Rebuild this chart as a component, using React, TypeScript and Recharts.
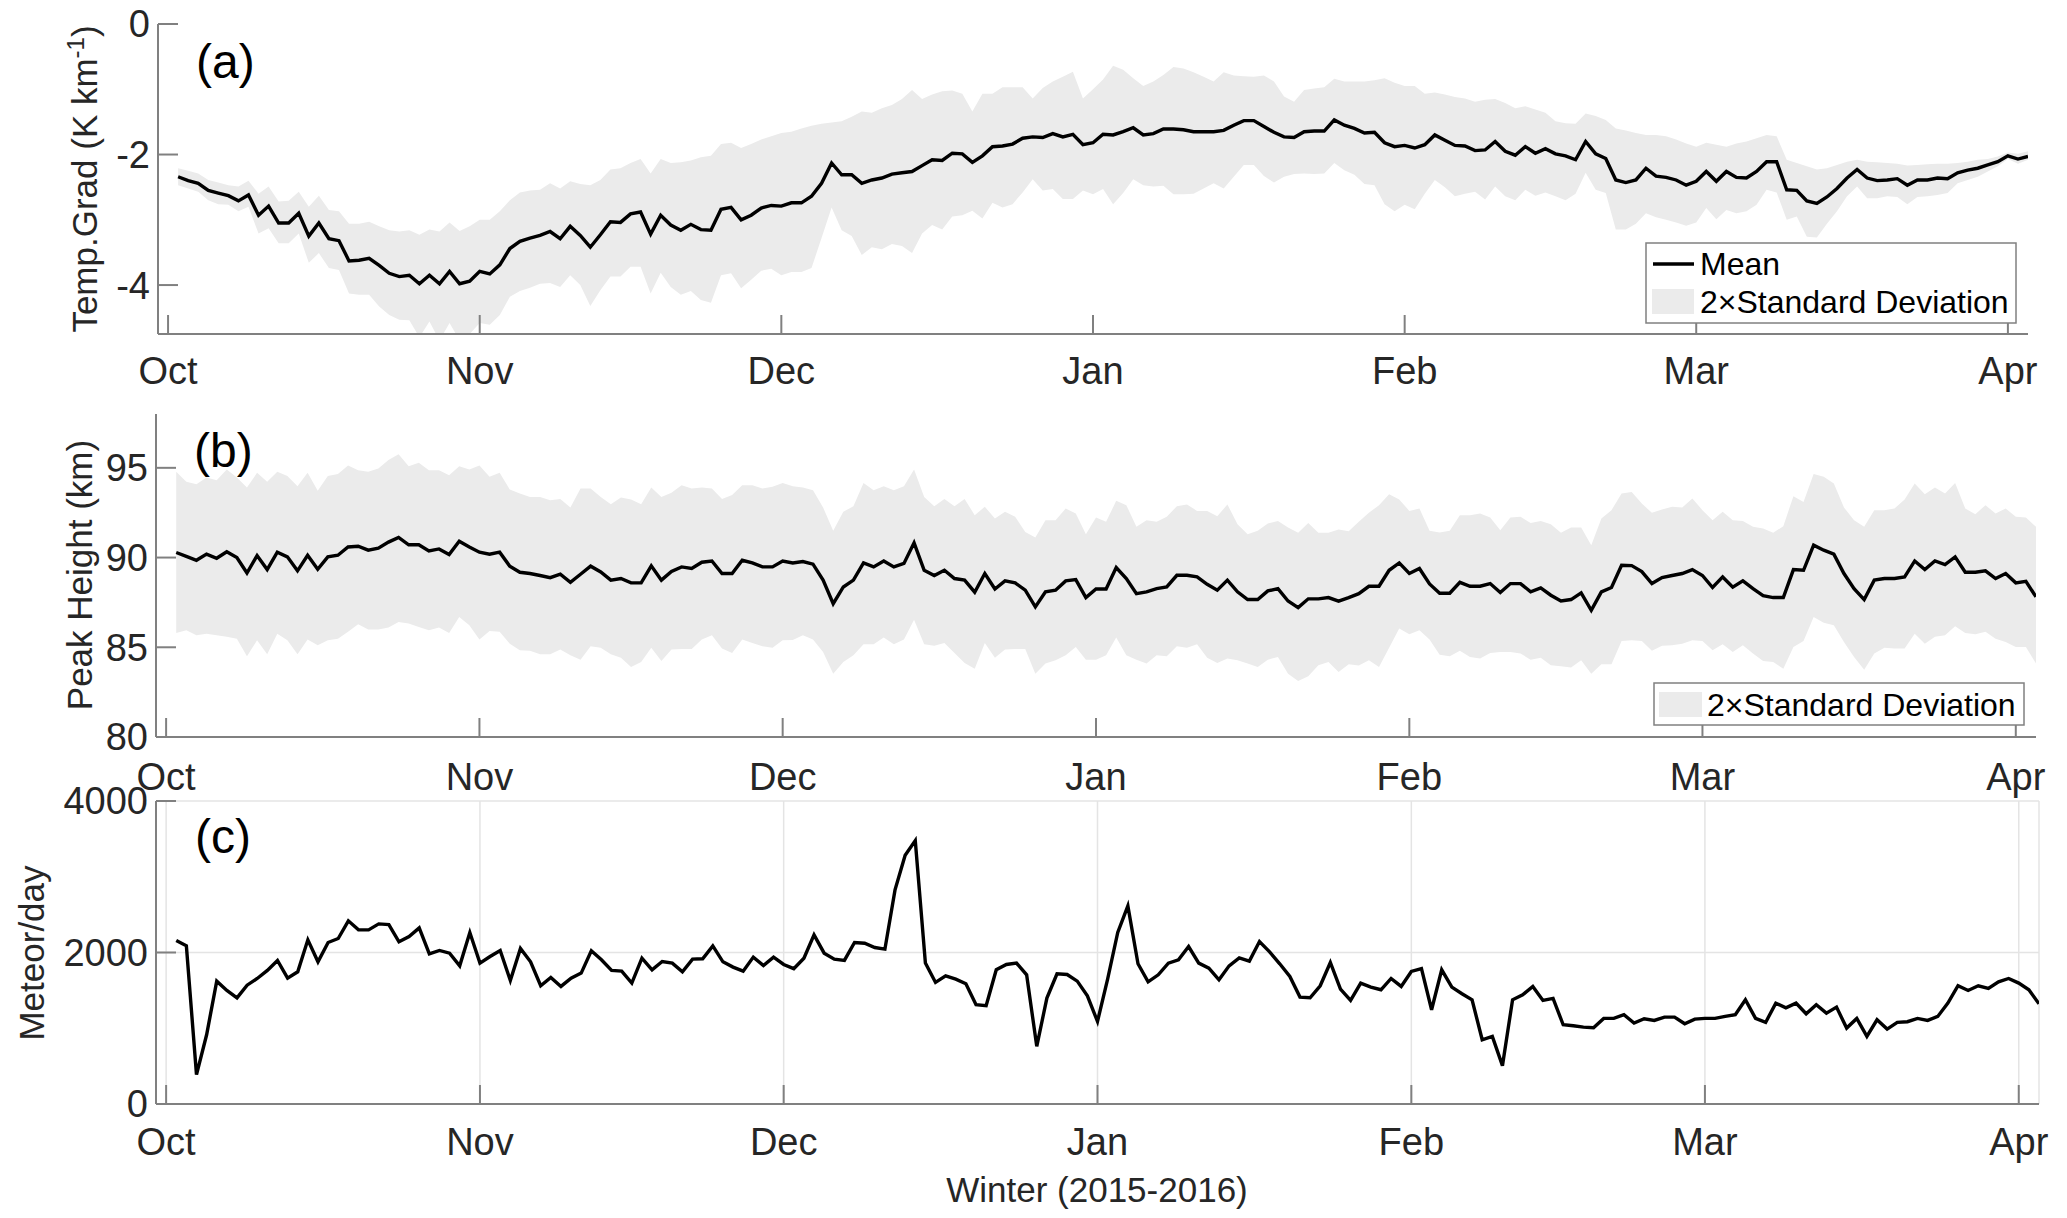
import React from "react";
import { Area, CartesianGrid, ComposedChart, Line, XAxis, YAxis } from "recharts";

// days are counted from 1 Oct 2015; the first sample is 2 Oct
const FIRST_DAY = 1;
const MONTH_TICKS = [0, 31, 61, 92, 123, 152, 183];
const MONTH_LABELS = ["Oct", "Nov", "Dec", "Jan", "Feb", "Mar", "Apr"];

// (a) temperature gradient, K/km
const gradMean = [
  -2.34, -2.4, -2.44, -2.55, -2.59, -2.63, -2.71, -2.62, -2.93, -2.79,
  -3.05, -3.05, -2.9, -3.25, -3.05, -3.29, -3.32, -3.63, -3.62, -3.59,
  -3.7, -3.82, -3.87, -3.85, -3.98, -3.85, -3.98, -3.79, -3.98, -3.94,
  -3.79, -3.83, -3.69, -3.44, -3.33, -3.28, -3.24, -3.18, -3.29, -3.1,
  -3.24, -3.42, -3.23, -3.03, -3.04, -2.91, -2.88, -3.22, -2.93, -3.08,
  -3.16, -3.07, -3.15, -3.16, -2.84, -2.81, -3.0, -2.93, -2.82, -2.78,
  -2.79, -2.74, -2.74, -2.64, -2.44, -2.13, -2.31, -2.31, -2.44, -2.39,
  -2.36, -2.3, -2.28, -2.26, -2.17, -2.08, -2.09, -1.98, -1.99, -2.12,
  -2.02, -1.88, -1.87, -1.84, -1.75, -1.73, -1.74, -1.68, -1.73, -1.69,
  -1.85, -1.82, -1.69, -1.7, -1.65, -1.59, -1.7, -1.68, -1.61, -1.61,
  -1.62, -1.65, -1.65, -1.65, -1.63, -1.55, -1.48, -1.48, -1.57, -1.66,
  -1.73, -1.74, -1.65, -1.64, -1.64, -1.47, -1.55, -1.6, -1.67, -1.66,
  -1.82, -1.88, -1.86, -1.9, -1.85, -1.7, -1.78, -1.86, -1.87, -1.94,
  -1.93, -1.8, -1.95, -2.01, -1.88, -1.98, -1.91, -1.99, -2.02, -2.08,
  -1.8, -1.99, -2.06, -2.39, -2.43, -2.39, -2.21, -2.33, -2.35, -2.39,
  -2.47, -2.41, -2.26, -2.41, -2.26, -2.35, -2.36, -2.26, -2.11, -2.11,
  -2.54, -2.55, -2.71, -2.75, -2.65, -2.52, -2.36, -2.23, -2.36, -2.4,
  -2.39, -2.37, -2.47, -2.39, -2.39, -2.36, -2.37, -2.28, -2.24, -2.21,
  -2.16, -2.11, -2.02, -2.07, -2.03,
];
const gradHi = [
  -2.21, -2.25, -2.29, -2.39, -2.43, -2.47, -2.49, -2.4, -2.6, -2.49,
  -2.72, -2.71, -2.57, -2.8, -2.63, -2.85, -2.87, -3.06, -3.06, -3.03,
  -3.1, -3.16, -3.18, -3.16, -3.23, -3.15, -3.18, -3.04, -3.17, -3.1,
  -3.0, -3.0, -2.87, -2.7, -2.58, -2.55, -2.54, -2.44, -2.52, -2.41,
  -2.45, -2.47, -2.39, -2.23, -2.21, -2.13, -2.07, -2.29, -2.07, -2.13,
  -2.12, -2.09, -2.04, -2.02, -1.84, -1.82, -1.9, -1.84, -1.77, -1.72,
  -1.67, -1.65, -1.6, -1.56, -1.53, -1.51, -1.49, -1.42, -1.34, -1.36,
  -1.29, -1.24, -1.15, -1.01, -1.15, -1.08, -1.03, -1.02, -1.07, -1.34,
  -1.07, -1.07, -0.97, -0.97, -0.97, -1.14, -0.98, -0.88, -0.81, -0.73,
  -1.14, -1.0, -0.85, -0.64, -0.7, -0.83, -0.95, -0.88, -0.78, -0.66,
  -0.68, -0.74, -0.81, -0.88, -0.74, -0.79, -0.8, -0.81, -0.79, -0.88,
  -1.11, -1.19, -1.01, -0.99, -0.97, -0.84, -0.88, -0.88, -0.88, -0.86,
  -0.83, -0.9, -0.95, -0.95, -1.07, -1.05, -1.08, -1.12, -1.14, -1.19,
  -1.16, -1.15, -1.21, -1.29, -1.26, -1.31, -1.36, -1.49, -1.52, -1.53,
  -1.37, -1.41, -1.47, -1.6, -1.63, -1.67, -1.7, -1.7, -1.72, -1.77,
  -1.83, -1.88, -1.82, -1.85, -1.88, -1.83, -1.8, -1.75, -1.7, -1.72,
  -2.08, -2.13, -2.18, -2.23, -2.21, -2.16, -2.11, -2.08, -2.11, -2.12,
  -2.13, -2.14, -2.17, -2.16, -2.15, -2.14, -2.14, -2.13, -2.11, -2.08,
  -2.07, -2.03, -1.97, -1.99, -1.95,
];
const gradLo = [
  -2.47, -2.52, -2.57, -2.7, -2.76, -2.77, -2.87, -2.8, -3.21, -3.13,
  -3.36, -3.36, -3.21, -3.66, -3.51, -3.74, -3.77, -4.13, -4.15, -4.15,
  -4.33, -4.46, -4.53, -4.54, -4.8, -4.56, -4.85, -4.58, -4.85, -4.75,
  -4.58, -4.61, -4.46, -4.18, -4.09, -4.04, -3.98, -3.97, -4.03, -3.85,
  -4.0, -4.32, -4.08, -3.87, -3.87, -3.72, -3.72, -4.13, -3.81, -4.03,
  -4.15, -4.09, -4.23, -4.27, -3.85, -3.82, -4.05, -3.92, -3.78, -3.75,
  -3.85, -3.8, -3.8, -3.74, -3.28, -2.81, -3.16, -3.25, -3.54, -3.42,
  -3.45, -3.37, -3.4, -3.51, -3.21, -3.08, -3.15, -2.95, -2.93, -2.86,
  -2.98, -2.74, -2.81, -2.76, -2.58, -2.38, -2.55, -2.53, -2.68, -2.68,
  -2.55, -2.61, -2.53, -2.76, -2.59, -2.38, -2.47, -2.49, -2.48, -2.61,
  -2.61, -2.6, -2.52, -2.44, -2.52, -2.34, -2.16, -2.16, -2.33, -2.43,
  -2.34, -2.3, -2.29, -2.3, -2.29, -2.13, -2.24, -2.31, -2.45, -2.47,
  -2.76, -2.87, -2.77, -2.84, -2.6, -2.39, -2.5, -2.64, -2.6, -2.57,
  -2.69, -2.49, -2.64, -2.7, -2.54, -2.63, -2.58, -2.64, -2.7, -2.6,
  -2.28, -2.54, -2.59, -3.15, -3.15, -3.06, -2.9, -2.96, -3.0, -3.04,
  -3.09, -3.04, -2.82, -2.99, -2.85, -2.9, -2.87, -2.77, -2.54, -2.58,
  -3.0, -2.95, -3.26, -3.27, -3.06, -2.87, -2.64, -2.49, -2.67, -2.67,
  -2.64, -2.65, -2.76, -2.65, -2.64, -2.62, -2.59, -2.44, -2.39, -2.34,
  -2.26, -2.18, -2.07, -2.14, -2.08,
];

// (b) peak height, km
const peakMean = [
  90.28, 90.07, 89.85, 90.19, 89.96, 90.32, 90.0, 89.14, 90.11, 89.33,
  90.3, 90.04, 89.26, 90.13, 89.35, 90.04, 90.13, 90.59, 90.63, 90.41,
  90.52, 90.86, 91.12, 90.71, 90.71, 90.37, 90.48, 90.17, 90.91, 90.59,
  90.3, 90.19, 90.3, 89.52, 89.18, 89.11, 89.0, 88.88, 89.07, 88.62,
  89.07, 89.52, 89.2, 88.74, 88.83, 88.59, 88.59, 89.54, 88.74, 89.22,
  89.48, 89.39, 89.74, 89.81, 89.11, 89.11, 89.85, 89.7, 89.48, 89.48,
  89.81, 89.7, 89.78, 89.63, 88.74, 87.43, 88.36, 88.74, 89.7, 89.48,
  89.81, 89.48, 89.67, 90.82, 89.29, 89.0, 89.29, 88.83, 88.74, 88.07,
  89.11, 88.25, 88.7, 88.59, 88.18, 87.25, 88.09, 88.18, 88.7, 88.77,
  87.77, 88.25, 88.25, 89.44, 88.83, 87.99, 88.09, 88.27, 88.36, 89.01,
  89.01, 88.92, 88.51, 88.18, 88.74, 88.09, 87.66, 87.66, 88.14, 88.27,
  87.58, 87.21, 87.7, 87.7, 87.77, 87.57, 87.77, 87.99, 88.4, 88.4,
  89.29, 89.7, 89.11, 89.39, 88.53, 88.01, 88.01, 88.62, 88.4, 88.4,
  88.55, 88.05, 88.55, 88.55, 88.09, 88.31, 87.9, 87.58, 87.66, 88.03,
  87.06, 88.09, 88.33, 89.57, 89.55, 89.22, 88.55, 88.88, 89.0, 89.11,
  89.33, 89.0, 88.33, 88.92, 88.35, 88.7, 88.27, 87.88, 87.77, 87.77,
  89.33, 89.29, 90.69, 90.41, 90.19, 89.11, 88.27, 87.66, 88.74, 88.83,
  88.83, 88.92, 89.81, 89.33, 89.81, 89.61, 90.04, 89.18, 89.18, 89.26,
  88.83, 89.11, 88.59, 88.68, 87.81,
];
const peakHi = [
  94.78, 94.22, 94.09, 94.46, 94.31, 94.91, 94.46, 93.9, 94.72, 94.22,
  94.78, 94.54, 93.98, 94.72, 93.72, 94.54, 94.65, 95.13, 94.87, 94.78,
  94.96, 95.43, 95.76, 95.09, 95.28, 94.87, 94.87, 94.59, 95.09, 94.91,
  95.13, 94.5, 94.72, 93.79, 93.57, 93.38, 93.38, 93.2, 93.27, 92.79,
  93.85, 93.85, 93.38, 92.97, 93.35, 93.23, 92.97, 93.9, 93.38, 93.61,
  94.03, 93.85, 93.9, 93.85, 93.27, 93.48, 94.03, 94.03, 93.85, 93.94,
  94.16, 93.98, 93.9, 93.75, 92.79, 91.49, 92.55, 92.86, 94.16, 93.75,
  93.98, 93.75, 93.98, 94.91, 93.38, 92.86, 93.27, 92.86, 93.27, 92.36,
  92.83, 92.17, 92.55, 92.27, 91.43, 91.12, 92.08, 92.08, 92.73, 92.45,
  91.3, 92.23, 91.99, 93.16, 92.92, 91.71, 92.08, 91.99, 92.27, 92.86,
  92.96, 92.6, 92.6, 92.3, 92.96, 91.86, 91.3, 91.49, 91.9, 92.04,
  91.67, 91.38, 91.93, 91.38, 91.38, 91.56, 91.47, 91.99, 92.49, 92.92,
  93.53, 93.23, 92.6, 92.73, 91.49, 91.4, 91.5, 92.36, 92.36, 92.45,
  92.23, 91.52, 92.23, 92.27, 91.93, 92.04, 91.86, 91.38, 91.67, 91.67,
  90.69, 92.17, 92.64, 93.57, 93.66, 93.01, 92.49, 92.68, 92.83, 92.79,
  93.29, 92.64, 92.08, 92.55, 92.08, 92.04, 91.71, 91.62, 91.38, 91.75,
  93.42, 93.1, 94.65, 94.5, 94.13, 92.79, 92.08, 91.71, 92.64, 92.64,
  92.73, 93.23, 94.13, 93.53, 93.9, 93.57, 94.16, 92.73, 92.42, 92.92,
  92.45, 92.73, 92.27, 92.23, 91.71,
];
const peakLo = [
  85.8, 85.95, 85.67, 85.76, 85.67, 85.58, 85.48, 84.5, 85.39, 84.61,
  85.76, 85.39, 84.61, 85.43, 85.11, 85.39, 85.48, 85.86, 86.28, 85.99,
  85.99, 86.1, 86.41, 86.32, 86.13, 85.95, 86.1, 85.8, 86.69, 86.23,
  85.43, 85.91, 85.86, 85.2, 84.83, 84.8, 84.61, 84.61, 84.87, 84.55,
  84.31, 85.06, 84.98, 84.61, 84.42, 83.9, 84.18, 84.98, 84.24, 84.87,
  84.91, 84.91, 85.43, 85.67, 84.93, 84.68, 85.43, 85.24, 85.06, 84.98,
  85.39, 85.41, 85.67, 85.43, 84.74, 83.53, 84.18, 84.55, 85.17, 85.17,
  85.54, 85.17, 85.43, 86.54, 85.17, 85.09, 85.24, 84.68, 84.13, 83.81,
  85.24, 84.42, 84.87, 84.91, 84.91, 83.53, 84.09, 84.28, 84.55, 85.02,
  84.31, 84.31, 84.55, 85.54, 84.55, 84.31, 84.09, 84.55, 84.5, 85.06,
  84.98, 85.17, 84.42, 84.13, 84.37, 84.28, 84.09, 83.9, 84.31, 84.46,
  83.53, 83.12, 83.38, 84.0, 84.18, 83.62, 84.05, 83.98, 84.28, 83.9,
  84.98, 86.04, 85.72, 85.95, 85.44, 84.58, 84.5, 84.8, 84.46, 84.37,
  84.68, 84.74, 84.74, 84.65, 84.31, 84.42, 84.0, 83.94, 83.87, 84.28,
  83.53, 84.05, 84.05, 85.35, 85.39, 85.35, 84.8, 85.09, 85.11, 85.2,
  85.39, 85.35, 84.83, 85.17, 84.74, 85.11, 84.65, 84.24, 84.18, 83.81,
  85.02, 85.35, 86.69, 86.36, 86.23, 85.3, 84.46, 83.75, 84.65, 84.98,
  84.93, 84.93, 85.76, 85.2, 85.58, 85.67, 86.17, 85.8, 85.72, 85.86,
  85.48, 85.3, 85.02, 85.02, 84.09,
];

// (c) meteor counts per day
const meteors = [
  2158, 2088, 387, 914, 1622, 1499, 1402, 1569, 1657, 1763,
  1895, 1662, 1745, 2167, 1877, 2132, 2185, 2418, 2299, 2299,
  2378, 2369, 2141, 2211, 2325, 1983, 2027, 1991, 1824, 2264,
  1860, 1947, 2027, 1631, 2053, 1877, 1561, 1671, 1552, 1662,
  1728, 2022, 1903, 1763, 1754, 1596, 1925, 1772, 1881, 1860,
  1745, 1912, 1917, 2088, 1877, 1807, 1754, 1939, 1829, 1939,
  1842, 1787, 1925, 2233, 1991, 1912, 1895, 2132, 2123, 2066,
  2044, 2827, 3284, 3477, 1860, 1605, 1692, 1649, 1587, 1310,
  1297, 1772, 1842, 1860, 1706, 761, 1398, 1719, 1710, 1622,
  1429, 1090, 1649, 2264, 2616, 1851, 1613, 1706, 1860, 1903,
  2079, 1860, 1794, 1640, 1824, 1930, 1886, 2145, 2009, 1851,
  1684, 1411, 1402, 1561, 1868, 1517, 1367, 1596, 1543, 1508,
  1657, 1552, 1750, 1787, 1244, 1772, 1543, 1455, 1376, 848,
  892, 506, 1376, 1442, 1552, 1367, 1394, 1046, 1033, 1015,
  1007, 1130, 1130, 1178, 1068, 1125, 1103, 1147, 1147, 1059,
  1121, 1130, 1130, 1156, 1178, 1376, 1130, 1077, 1332, 1270,
  1332, 1191, 1310, 1200, 1279, 1002, 1130, 892, 1112, 989,
  1077, 1086, 1130, 1103, 1156, 1332, 1561, 1499, 1561, 1525,
  1613, 1657, 1596, 1508, 1323,
];

const FONT = '"Liberation Sans", Arial, Helvetica, sans-serif';
const INK = "#262626";
const AXIS = "#808080";
const BAND = "#ebebeb";
const DOMAIN_X: [number, number] = [-1, 185];

const gradRows = gradMean.map((v, i) => ({ d: FIRST_DAY + i, mean: v, band: [gradLo[i], gradHi[i]] }));
const peakRows = peakMean.map((v, i) => ({ d: FIRST_DAY + i, mean: v, band: [peakLo[i], peakHi[i]] }));
const meteorRows = meteors.map((v, i) => ({ d: FIRST_DAY + i, v }));

const tickStyle = { fontSize: 38, fill: INK, fontFamily: FONT };
const axisStroke = { stroke: AXIS, strokeWidth: 2 };
const monthName = (t: number) => MONTH_LABELS[MONTH_TICKS.indexOf(t)] ?? "";

// box axes: labelled bottom/left, bare top/right, ticks pointing inwards like matlab
function boxAxes(opts: {
  yDomain: [number, number];
  yTicks: number[];
  yWidth: number;
  xMargin: number;
  clip?: boolean;
}) {
  return [
    <XAxis
      key="xb"
      dataKey="d"
      type="number"
      domain={DOMAIN_X}
      ticks={MONTH_TICKS}
      interval={0}
      tickFormatter={monthName}
      tickSize={-19}
      tickMargin={opts.xMargin}
      height={50}
      axisLine={axisStroke}
      tickLine={axisStroke}
      tick={tickStyle}
      allowDataOverflow
    />,
    <XAxis
      key="xt"
      xAxisId="top"
      orientation="top"
      type="number"
      domain={DOMAIN_X}
      ticks={MONTH_TICKS}
      interval={0}
      tickFormatter={() => ""}
      tickSize={-19}
      height={0}
      axisLine={axisStroke}
      tickLine={axisStroke}
      allowDataOverflow
    />,
    <YAxis
      key="yl"
      type="number"
      domain={opts.yDomain}
      ticks={opts.yTicks}
      interval={0}
      tickSize={-20}
      tickMargin={28}
      width={opts.yWidth}
      axisLine={axisStroke}
      tickLine={axisStroke}
      tick={tickStyle}
      allowDataOverflow={opts.clip}
    />,
    <YAxis
      key="yr"
      yAxisId="right"
      orientation="right"
      type="number"
      domain={opts.yDomain}
      ticks={opts.yTicks}
      interval={0}
      tickFormatter={() => ""}
      tickSize={-20}
      width={0}
      axisLine={axisStroke}
      tickLine={axisStroke}
    />,
  ];
}

function VTitle({ x, y, children }: { x: number; y: number; children: React.ReactNode }) {
  return (
    <text x={x} y={y} transform={`rotate(-90 ${x} ${y})`} textAnchor="middle" fontSize={35} fontFamily={FONT} fill={INK}>
      {children}
    </text>
  );
}

function Overlay() {
  const label = { fontSize: 48, fontFamily: FONT, fill: "#000" };
  const legendText = { fontSize: 32, fontFamily: FONT, fill: "#000" };
  return (
    <svg width={2067} height={1218} style={{ position: "absolute", left: 0, top: 0, pointerEvents: "none" }}>
      <text x={196} y={78} {...label}>(a)</text>
      <text x={194} y={467} {...label}>(b)</text>
      <text x={195} y={853} {...label}>(c)</text>

      <VTitle x={97} y={179}>
        Temp.Grad (K km
        <tspan dy={-13} fontSize={24}>-1</tspan>
        <tspan dy={13}>)</tspan>
      </VTitle>
      <VTitle x={92} y={575}>Peak Height (km)</VTitle>
      <VTitle x={44} y={953}>Meteor/day</VTitle>
      <text x={1097} y={1202} textAnchor="middle" fontSize={35} fontFamily={FONT} fill={INK}>
        Winter (2015-2016)
      </text>

      <rect x={1646} y={243} width={370} height={80} fill="#fff" stroke={AXIS} strokeWidth={1.5} />
      <line x1={1653} x2={1694} y1={264} y2={264} stroke="#000" strokeWidth={3.4} />
      <text x={1700} y={275} {...legendText}>Mean</text>
      <rect x={1652} y={289} width={42} height={25} fill={BAND} />
      <text x={1700} y={313} {...legendText}>2×Standard Deviation</text>

      <rect x={1654} y={683} width={370} height={42} fill="#fff" stroke={AXIS} strokeWidth={1.5} />
      <rect x={1659} y={692} width={43} height={25} fill={BAND} />
      <text x={1707} y={716} {...legendText}>2×Standard Deviation</text>
    </svg>
  );
}

export default function App() {
  return (
    <div style={{ position: "absolute", left: 0, top: 0, width: 2067, height: 1218, background: "#fff" }}>
      <div style={{ position: "absolute", left: 0, top: 0 }}>
        <ComposedChart width={2067} height={400} data={gradRows} margin={{ top: 24, right: 39, bottom: 16, left: 0 }}>
          {boxAxes({ yDomain: [-4.75, 0], yTicks: [-4, -2, 0], yWidth: 158, xMargin: 42, clip: true })}
          <Area dataKey="band" type="linear" stroke="none" fill={BAND} fillOpacity={1} isAnimationActive={false} />
          <Line dataKey="mean" type="linear" stroke="#000" strokeWidth={3.4} dot={false} isAnimationActive={false} />
        </ComposedChart>
      </div>

      <div style={{ position: "absolute", left: 0, top: 390 }}>
        <ComposedChart width={2067} height={415} data={peakRows} margin={{ top: 24, right: 31, bottom: 18, left: 0 }}>
          {boxAxes({ yDomain: [80, 98], yTicks: [80, 85, 90, 95], yWidth: 156, xMargin: 45 })}
          <Area dataKey="band" type="linear" stroke="none" fill={BAND} fillOpacity={1} isAnimationActive={false} />
          <Line dataKey="mean" type="linear" stroke="#000" strokeWidth={3.4} dot={false} isAnimationActive={false} />
        </ComposedChart>
      </div>

      <div style={{ position: "absolute", left: 0, top: 760 }}>
        <ComposedChart width={2067} height={458} data={meteorRows} margin={{ top: 41, right: 28, bottom: 64, left: 0 }}>
          <CartesianGrid stroke="#e4e4e4" strokeWidth={1.5} />
          {boxAxes({ yDomain: [0, 4000], yTicks: [0, 2000, 4000], yWidth: 156, xMargin: 43 })}
          <Line dataKey="v" type="linear" stroke="#000" strokeWidth={3.4} dot={false} isAnimationActive={false} />
        </ComposedChart>
      </div>

      <Overlay />
    </div>
  );
}
